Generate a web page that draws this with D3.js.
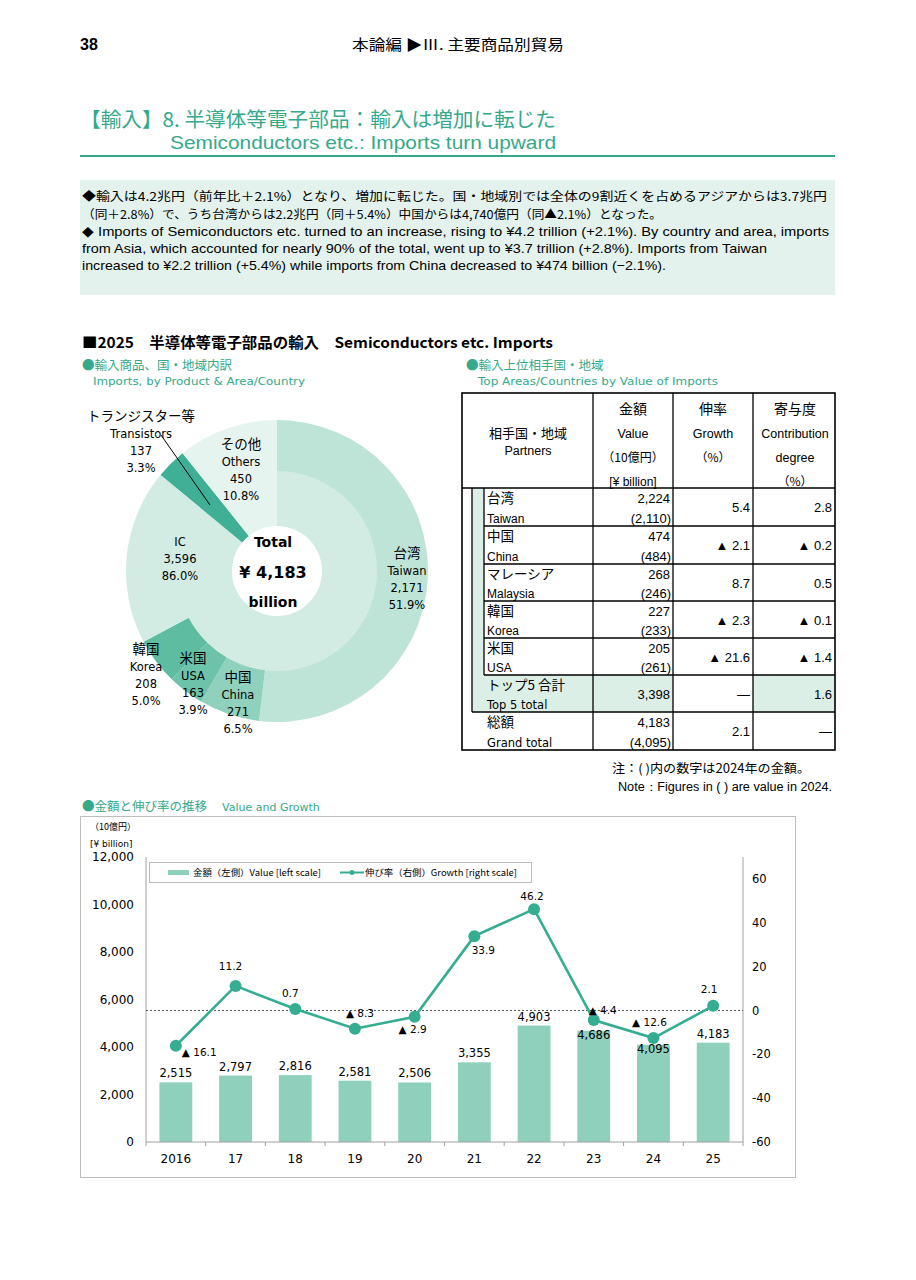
<!DOCTYPE html>
<html><head><meta charset="utf-8">
<script src="https://cdn.jsdelivr.net/npm/d3@7"></script>
<style>
body{margin:0;background:#fff;}
svg{display:block;}
</style></head>
<body>
<svg id="page" width="916" height="1280"></svg>
<script>
// ---------- DATA ----------
const years = ["2016","17","18","19","20","21","22","23","24","25"];
const values = [2515,2797,2816,2581,2506,3355,4903,4686,4095,4183];
const growth = [-16.1,11.2,0.7,-8.3,-2.9,33.9,46.2,-4.4,-12.6,2.1];
const leftTicks = [0,2000,4000,6000,8000,10000,12000];
const rightTicks = [-60,-40,-20,0,20,40,60];

const productKeys = ["IC","Transistors","Others"];
const productJa = ["IC","トランジスター等","その他"];
const productValues = [3596,137,450];
const productShares = [86.0,3.3,10.8];

const countryKeys = ["Taiwan","China","USA","Korea"];
const countryJa = ["台湾","中国","米国","韓国"];
const countryValues = [2171,271,163,208];
const countryShares = [51.9,6.5,3.9,5.0];
const totalValue = 4183;

const partnerJa = ["台湾","中国","マレーシア","韓国","米国"];
const partnerEn = ["Taiwan","China","Malaysia","Korea","USA"];
const partnerValue = [2224,474,268,227,205];
const partnerPrev = [2110,484,246,233,261];
const partnerGrowth = [5.4,-2.1,8.7,-2.3,-21.6];
const partnerContrib = [2.8,-0.2,0.5,-0.1,-1.4];
const top5Value = 3398, top5Contrib = 1.6;
const grandValue = 4183, grandPrev = 4095, grandGrowth = 2.1;

// ---------- STYLE ----------
const TEAL = "#35a98a";
const JP = "'Noto Sans CJK JP', sans-serif";
const VER = "'DejaVu Sans', sans-serif";
const ARI = "'Liberation Sans', Arial, sans-serif";
const svg = d3.select("#page");

function txt(x,y,s,o={}){
  const t = svg.append("text").attr("x",x).attr("y",y).text(s)
    .attr("font-family",o.ff||JP).attr("font-size",o.fs||13)
    .attr("fill",o.fill||"#000").attr("text-anchor",o.anchor||"start");
  if(o.fw) t.attr("font-weight",o.fw);
  if(o.len) t.attr("textLength",o.len).attr("lengthAdjust","spacingAndGlyphs");
  return t;
}
const neg = v => v<0 ? "▲ "+Math.abs(v).toFixed(1) : v.toFixed(1);
const fmt = d3.format(",");

// ---------- HEADER ----------
txt(80,50,"38",{ff:ARI,fs:16,fw:"bold"});
txt(458,50,"本論編 ▶Ⅲ. 主要商品別貿易",{fs:15,anchor:"middle",len:212});
txt(80,127,"【輸入】8. 半導体等電子部品：輸入は増加に転じた",{fs:20,fill:TEAL,len:476});
txt(170,149,"Semiconductors etc.: Imports turn upward",{ff:"'Liberation Sans Narrow','Liberation Sans',sans-serif",fs:19,fill:TEAL,len:386});
svg.append("line").attr("x1",80).attr("x2",835).attr("y1",156).attr("y2",156).attr("stroke",TEAL).attr("stroke-width",2);

// intro box
svg.append("rect").attr("x",80).attr("y",180).attr("width",755).attr("height",115).attr("fill","#e3f2ec");
const intro = [
  ["◆輸入は4.2兆円（前年比＋2.1%）となり、増加に転じた。国・地域別では全体の9割近くを占めるアジアからは3.7兆円",745,JP,201],
  ["（同＋2.8%）で、うち台湾からは2.2兆円（同＋5.4%）中国からは4,740億円（同▲2.1%）となった。",580,JP,219],
  ["◆ Imports of Semiconductors etc. turned to an increase, rising to ¥4.2 trillion (+2.1%). By country and area, imports",747,ARI,236],
  ["from Asia, which accounted for nearly 90% of the total, went up to ¥3.7 trillion (+2.8%). Imports from Taiwan",685,ARI,253],
  ["increased to ¥2.2 trillion (+5.4%) while imports from China decreased to ¥474 billion (−2.1%).",584,ARI,270]
];
intro.forEach(l=>txt(82,l[3],l[0],{fs:l[2]===JP?12:13.5,ff:l[2],len:l[1]}));

// section titles
txt(82,348,"■2025　半導体等電子部品の輸入　Semiconductors etc. Imports",{fs:14.5,fw:"bold",len:471});
txt(82,370,"●輸入商品、国・地域内訳",{fs:12.5,fill:TEAL});
txt(93,385,"Imports, by Product & Area/Country",{ff:VER,fs:11,fill:TEAL,len:212});
txt(466,370,"●輸入上位相手国・地域",{fs:12.5,fill:TEAL});
txt(478,385,"Top Areas/Countries by Value of Imports",{ff:VER,fs:11,fill:TEAL,len:240});

// ---------- DONUT ----------
const cx=277, cy=571, rHole=45, rMid=100, rOut=151;
const g = svg.append("g").attr("transform",`translate(${cx},${cy})`);
const prodColor = {IC:"#d2ece3",Transistors:"#3fb095",Others:"#e6f4ef"};
const ctryColor = {Taiwan:"#bde4d6",China:"#8fd1bc",USA:"#6dc3aa",Korea:"#5ebca0",ICrest:"#d2ece3"};
const pie = d3.pie().sort(null).value(d=>d.v);
const prodArcs = pie(productKeys.map((k,i)=>({k,v:productValues[i]})));
g.selectAll("path.prod").data(prodArcs).join("path")
  .attr("d",d=>d3.arc().innerRadius(rHole).outerRadius(d.data.k==="IC"?rMid+0.5:rOut)(d))
  .attr("fill",d=>prodColor[d.data.k]);
const icRest = productValues[0]-d3.sum(countryValues);
const outerData = countryKeys.map((k,i)=>({k,v:countryValues[i]}))
  .concat([{k:"ICrest",v:icRest},{k:"Transistors",v:productValues[1]},{k:"Others",v:productValues[2]}]);
const outerArcs = pie(outerData).filter(d=>d.data.k in ctryColor);
g.selectAll("path.ctry").data(outerArcs).join("path")
  .attr("d",d3.arc().innerRadius(rMid).outerRadius(rOut))
  .attr("fill",d=>ctryColor[d.data.k]);

// leader line for transistors
svg.append("line").attr("x1",161).attr("y1",435).attr("x2",210).attr("y2",505).attr("stroke","#000").attr("stroke-width",1);

function pieLabel(x,y,lines){
  lines.forEach((l,i)=>{
    txt(x,y+i*17,l,{ff:i===0?JP:VER,fs:i===0?13.5:11.5,anchor:"middle"});
  });
}
pieLabel(141,421,[productJa[1],productKeys[1],fmt(productValues[1]),productShares[1].toFixed(1)+"%"]);
pieLabel(241,449,[productJa[2],productKeys[2],fmt(productValues[2]),productShares[2].toFixed(1)+"%"]);
[productKeys[0],fmt(productValues[0]),productShares[0].toFixed(1)+"%"].forEach((l,i)=>txt(180,546+i*17,l,{ff:VER,fs:11.5,anchor:"middle"}));
const cLabelPos = {Taiwan:[407,558],China:[238,682],USA:[193,663],Korea:[146,654]};
countryKeys.forEach((k,i)=>{
  const p=cLabelPos[k];
  pieLabel(p[0],p[1],[countryJa[i],k,fmt(countryValues[i]),countryShares[i].toFixed(1)+"%"]);
});
txt(273,547,"Total",{ff:VER,fs:14,fw:"bold",anchor:"middle"});
txt(273,578,"¥ "+fmt(totalValue),{ff:VER,fs:16,fw:"bold",anchor:"middle"});
txt(273,607,"billion",{ff:VER,fs:14,fw:"bold",anchor:"middle"});

// ---------- TABLE ----------
const cols=[462,593,673,753,835];
const rowY=[488,526,564,601,638,675,712,750];
const tTop=393;
const T = svg.append("g");
const GREEN="#dcefe7";
T.append("rect").attr("x",472).attr("y",488).attr("width",12).attr("height",187).attr("fill",GREEN);
T.append("rect").attr("x",472).attr("y",675).attr("width",cols[2]-472).attr("height",37).attr("fill",GREEN);
T.append("rect").attr("x",cols[3]).attr("y",675).attr("width",cols[4]-cols[3]).attr("height",37).attr("fill",GREEN);
function L(x1,y1,x2,y2,w){T.append("line").attr("x1",x1).attr("y1",y1).attr("x2",x2).attr("y2",y2).attr("stroke","#000").attr("stroke-width",w||1);}
T.append("rect").attr("x",cols[0]).attr("y",tTop).attr("width",cols[4]-cols[0]).attr("height",rowY[7]-tTop).attr("fill","none").attr("stroke","#000").attr("stroke-width",1.6);
[1,2,3].forEach(i=>L(cols[i],tTop,cols[i],rowY[7],1.3));
L(cols[0],488,cols[4],488,1.3);
L(472,488,472,712,1.3);
L(484,488,484,675,1.3);
[526,564,601,638].forEach(y=>L(484,y,cols[4],y,1.3));
L(484,675,cols[4],675,1.3);
L(472,712,cols[4],712,1.3);
txt(528,438,"相手国・地域",{fs:13,anchor:"middle"});
txt(528,455,"Partners",{ff:ARI,fs:12.5,anchor:"middle"});
txt(633,414,"金額",{fs:14,anchor:"middle"});
txt(633,438,"Value",{ff:ARI,fs:12.5,anchor:"middle"});
txt(633,462,"（10億円）",{fs:12,anchor:"middle"});
txt(633,486,"[¥ billion]",{ff:ARI,fs:12,anchor:"middle"});
txt(713,414,"伸率",{fs:14,anchor:"middle"});
txt(713,438,"Growth",{ff:ARI,fs:12.5,anchor:"middle"});
txt(713,462,"（%）",{fs:12,anchor:"middle"});
txt(795,414,"寄与度",{fs:14,anchor:"middle"});
txt(795,438,"Contribution",{ff:ARI,fs:12.5,anchor:"middle"});
txt(795,462,"degree",{ff:ARI,fs:12.5,anchor:"middle"});
txt(795,486,"（%）",{fs:12,anchor:"middle"});
function row(i,ja,en,val,prev,gr,co,enFont){
  const y0=rowY[i], y1=rowY[i+1], mid=(y0+y1)/2;
  txt(487,y0+15,ja,{fs:13.5});
  txt(487,y1-3,en,{ff:enFont||ARI,fs:enFont?11.5:12});
  if(prev!==null){
    txt(670,y0+15,val,{ff:ARI,fs:13,anchor:"end"});
    txt(671,y1-3,"("+prev+")",{ff:ARI,fs:13,anchor:"end"});
  } else txt(670,mid+5,val,{ff:ARI,fs:13,anchor:"end"});
  txt(750,mid+5,gr,{ff:ARI,fs:13,anchor:"end"});
  txt(832,mid+5,co,{ff:ARI,fs:13,anchor:"end"});
}
partnerJa.forEach((ja,i)=>row(i,ja,partnerEn[i],fmt(partnerValue[i]),fmt(partnerPrev[i]),neg(partnerGrowth[i]),neg(partnerContrib[i])));
row(5,"トップ5 合計","Top 5 total",fmt(top5Value),null,"—",top5Contrib.toFixed(1),VER);
row(6,"総額","Grand total",fmt(grandValue),fmt(grandPrev),grandGrowth.toFixed(1),"—",VER);

txt(612,773,"注：( )内の数字は2024年の金額。",{fs:12.5,len:198});
txt(618,791,"Note：Figures in ( ) are value in 2024.",{ff:ARI,fs:12,len:214});

// ---------- BAR + LINE CHART ----------
txt(82,811,"●金額と伸び率の推移",{fs:12.5,fill:TEAL});
txt(222,811,"Value and Growth",{ff:VER,fs:11,fill:TEAL});
svg.append("rect").attr("x",80.5).attr("y",816.5).attr("width",715).attr("height",361).attr("fill","none").attr("stroke","#bdbdbd");
txt(90,830,"（10億円）",{fs:9});
txt(90,847,"[¥ billion]",{ff:VER,fs:9});

const X0=146, X1=743, Ytop=857, Ybot=1142;
const x = d3.scaleBand().domain(years).range([X0,X1]).paddingInner(0.45).paddingOuter(0.225);
const yL = d3.scaleLinear().domain([0,12000]).range([Ybot,Ytop]);
const yR = d3.scaleLinear().domain([-60,70]).range([Ybot,Ytop]);
const C = svg.append("g");

C.selectAll("rect.bar").data(values).join("rect")
  .attr("x",(d,i)=>x(years[i])).attr("width",x.bandwidth())
  .attr("y",d=>yL(d)).attr("height",d=>Ybot-yL(d)).attr("fill","#8ed0bc");

const axL = C.append("g").attr("transform",`translate(${X0},0)`).call(d3.axisLeft(yL).tickValues(leftTicks).tickFormat(fmt).tickSize(0).tickPadding(12));
const axR = C.append("g").attr("transform",`translate(${X1},0)`).call(d3.axisRight(yR).tickValues(rightTicks).tickFormat(d=>String(d)).tickSize(0).tickPadding(9));
const axB = C.append("g").attr("transform",`translate(0,${Ybot})`).call(d3.axisBottom(x).tickSize(0).tickPadding(12));
[axL,axR,axB].forEach(a=>{
  a.select(".domain").attr("stroke","#a0a0a0");
  a.selectAll("text").attr("font-family",VER).attr("font-size",12).attr("fill","#000");
});
axR.selectAll("text").attr("font-size",11.5);
axL.select(".domain").attr("d",`M0,${Ytop}V${Ybot}`);
axR.select(".domain").attr("d",`M0,${Ytop}V${Ybot}`);
axB.select(".domain").attr("d",`M${X0},0H${X1}`);
const step = x.step();
d3.range(years.length+1).forEach(i=>{
  const xx = X0 + i*step;
  C.append("line").attr("x1",xx).attr("x2",xx).attr("y1",Ybot).attr("y2",Ybot+4).attr("stroke","#a0a0a0");
});

C.append("line").attr("x1",X0).attr("x2",X1).attr("y1",yR(0)).attr("y2",yR(0))
  .attr("stroke","#555").attr("stroke-dasharray","2,2").attr("stroke-width",1);

const barLabelInside = [7,8];
values.forEach((v,i)=>{
  const cxm = x(years[i])+x.bandwidth()/2;
  const yy = barLabelInside.includes(i) ? yL(v)+8 : yL(v)-5;
  txt(cxm,yy,fmt(v),{ff:VER,fs:11.5,anchor:"middle"});
});

const xc = i => x(years[i])+x.bandwidth()/2;
C.append("path").datum(growth).attr("fill","none").attr("stroke","#35ad91").attr("stroke-width",2.6)
  .attr("d",d3.line().x((d,i)=>xc(i)).y(d=>yR(d)));
C.selectAll("circle.pt").data(growth).join("circle")
  .attr("cx",(d,i)=>xc(i)).attr("cy",d=>yR(d)).attr("r",6).attr("fill","#35ad91");
const gLab = [[6,10,"start"],[-5,-16,"middle"],[-5,-12,"middle"],[5,-12,"middle"],[-2,16,"middle"],
              [9,18,"middle"],[-2,-9,"middle"],[9,-6,"middle"],[-4,-12,"middle"],[-4,-13,"middle"]];
growth.forEach((v,i)=>{
  const o=gLab[i];
  txt(xc(i)+o[0],yR(v)+o[1],neg(v),{ff:VER,fs:10.5,anchor:o[2]});
});

svg.append("rect").attr("x",149.5).attr("y",862.5).attr("width",382).attr("height",20).attr("fill","#fff").attr("stroke","#bdbdbd");
svg.append("rect").attr("x",168).attr("y",870).attr("width",21).attr("height",5).attr("fill","#8ed0bc");
txt(193,876,"金額（左側）Value [left scale]",{fs:9,len:128});
svg.append("line").attr("x1",340).attr("x2",364).attr("y1",872.5).attr("y2",872.5).attr("stroke","#35ad91").attr("stroke-width",2);
svg.append("circle").attr("cx",352).attr("cy",872.5).attr("r",2.5).attr("fill","#35ad91");
txt(365,876,"伸び率（右側）Growth [right scale]",{fs:9,len:152});
</script>
</body></html>
